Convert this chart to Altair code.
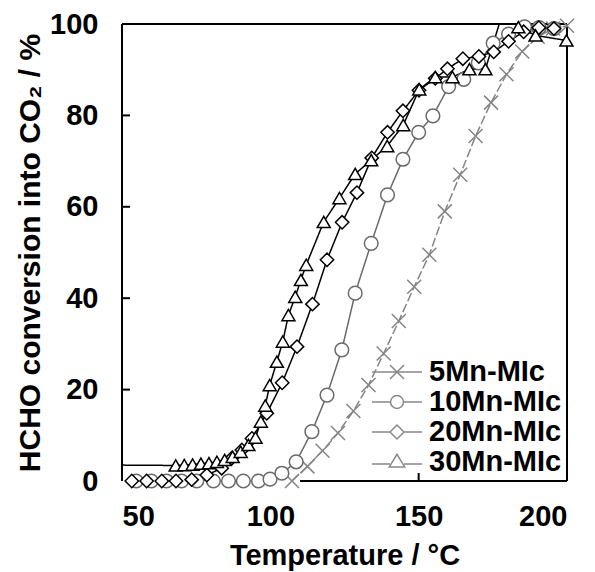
import altair as alt
import pandas as pd

series = ["5Mn-MIc", "10Mn-MIc", "20Mn-MIc", "30Mn-MIc"]
colors = ["#858585", "#6a6a6a", "#000000", "#000000"]

x5 = [107.3, 112.5, 117.6, 122.8, 128.0, 133.1, 138.2, 143.3, 148.5, 153.6, 158.8,
      164.0, 169.2, 174.4, 179.6, 184.9, 190.1, 195.3, 200.0]
y5 = [0.0, 3.2, 6.6, 10.5, 15.3, 21.0, 27.9, 35.0, 42.5, 49.5, 59.0,
      67.0, 75.5, 82.8, 89.0, 94.0, 97.2, 99.0, 99.6]

x10 = [54.8, 59.9, 65.0, 70.1, 75.2, 80.8, 85.9, 90.9, 96.0, 99.9, 103.9, 108.7,
       114.0, 119.1, 124.1, 128.6, 134.0, 139.5, 144.7, 150.0, 154.8, 160.1, 165.2,
       170.1, 175.1, 180.3, 185.7, 190.6, 195.6]
y10 = [0, 0, 0, 0, 0, 0, 0, 0, 0, 0.4, 1.7, 4.2,
       10.8, 18.8, 28.7, 41.1, 52.0, 62.6, 70.4, 76.3, 79.9, 86.3, 87.9,
       91.5, 95.8, 97.8, 99.4, 99.2, 99.0]

x20 = [53.3, 58.3, 63.4, 68.2, 73.5, 78.6, 83.6, 87.0, 90.4, 93.8, 98.8, 104.0, 109.0,
       114.2, 119.1, 124.2, 129.2, 134.2, 139.5, 144.7, 150.1, 155.6, 159.7, 164.9,
       170.3, 175.3, 180.3, 185.4, 190.5, 195.6]
y20 = [0, 0, 0, 0, 0.3, 1.3, 2.8, 5.0, 6.8, 9.3, 14.8, 21.5, 29.4,
       38.7, 48.4, 56.6, 63.1, 70.7, 76.3, 81.0, 85.5, 88.1, 90.2, 92.4,
       92.9, 93.9, 96.2, 98.3, 99.2, 99.0]

x30 = [45.0, 68.1, 71.0, 73.8, 76.6, 79.3, 82.0, 84.6, 87.3, 90.0, 92.6, 95.0, 96.8,
       98.3, 99.8, 102.2, 104.2, 106.1, 108.4, 110.3, 112.1, 118.0, 123.3, 128.6,
       134.0, 139.4, 144.8, 150.2, 155.6, 161.4, 167.1, 172.5, 179.5, 183.6, 189.4, 199.8]
y30 = [3.5, 3.4, 3.5, 3.6, 3.8, 3.9, 4.2, 4.6, 5.3, 6.4, 7.9, 9.5, 13.0,
       16.5, 21.0, 26.1, 30.5, 36.3, 40.3, 44.0, 47.3, 56.7, 61.9, 67.2,
       70.2, 73.3, 77.9, 85.7, 88.4, 88.4, 90.1, 90.1, 105.0, 99.3, 97.5, 96.4]
m30 = [False] + [True] * 31 + [False] + [True] * 3

x_ticks = [50, 100, 150, 200]
y_ticks = [0, 20, 40, 60, 80, 100]
inner_y_ticks = [20, 40, 60, 80]
inner_x_ticks = [150]

rows = []
for name, xs, ys, ms in [
    (series[0], x5, y5, [True] * len(x5)),
    (series[1], x10, y10, [True] * len(x10)),
    (series[2], x20, y20, [True] * len(x20)),
    (series[3], x30, y30, m30),
]:
    for a, b, m in zip(xs, ys, ms):
        rows.append({"series": name, "x": a, "y": b, "marker": m})
df = pd.DataFrame(rows)

frame = pd.DataFrame({
    "x": [50, 50, 200, 110],
    "x2": [200, 50, 200, 200],
    "y": [100, 0, 0, 0],
    "y2": [100, 100, 100, 0],
})
ytick_df = pd.DataFrame({"y": inner_y_ticks})
xtick_df = pd.DataFrame({"x": inner_x_ticks})

FONT = "Liberation Sans"
FS = 29

X = alt.X("x:Q", scale=alt.Scale(domain=[50, 200], nice=False, zero=False),
          axis=alt.Axis(values=x_ticks, title="Temperature / °C", format="d",
                        titleY=83, titleBaseline="alphabetic"))
Y = alt.Y("y:Q", scale=alt.Scale(domain=[0, 100], nice=False, zero=False),
          axis=alt.Axis(values=y_ticks, title="HCHO conversion into CO₂ / %", format="d",
                        titleX=-92, titleBaseline="middle", titleFontSize=30))

frame_layer = alt.Chart(frame).mark_rule(color="black", strokeWidth=2).encode(
    x=X, x2="x2:Q", y=Y, y2="y2:Q")

ytick_layer = alt.Chart(ytick_df).mark_rule(color="black", strokeWidth=2).encode(
    y=Y, x=alt.value(0), x2=alt.value(8))
xtick_layer = alt.Chart(xtick_df).mark_rule(color="black", strokeWidth=2).encode(
    x=X, y=alt.value(449), y2=alt.value(457))

color_scale = alt.Scale(domain=series, range=colors)

lines = alt.Chart(df).mark_line(clip=True, strokeWidth=1.5).encode(
    x=X, y=Y,
    color=alt.Color("series:N", scale=color_scale, legend=None),
    strokeDash=alt.StrokeDash("series:N", scale=alt.Scale(domain=series,
                              range=[[9, 3], [1, 0], [1, 0], [1, 0]]), legend=None),
    order="x:Q",
)

xpath = "M-1,-1L1,1M-1,1L1,-1"
points = alt.Chart(df).transform_filter("datum.marker").mark_point(
    filled=False, fill="white", fillOpacity=1, opacity=1, strokeWidth=1.5
).encode(
    x=X, y=Y,
    color=alt.Color("series:N", scale=color_scale, legend=None),
    shape=alt.Shape("series:N", scale=alt.Scale(domain=series,
                    range=[xpath, "circle", "diamond", "triangle-up"]), legend=None),
    size=alt.Size("series:N", scale=alt.Scale(domain=series, range=[196, 169, 225, 256]),
                  legend=None),
)

L = 1.786
leg_paths = [
    f"M-{L},0H{L}M-0.5,-0.5L0.5,0.5M-0.5,0.5L0.5,-0.5",
    f"M-{L},0H-0.46M0.46,0H{L}M-0.46,0A0.46,0.46 0 1,1 0.46,0A0.46,0.46 0 1,1 -0.46,0",
    f"M-{L},0H-0.5M0.5,0H{L}M-0.5,0L0,-0.5L0.5,0L0,0.5Z",
    f"M-{L},0.15H-0.5M0.5,0.15H{L}M0,-0.55L0.55,0.35L-0.55,0.35Z",
]
legend = alt.Legend(orient="none", legendX=260, legendY=333, title=None,
                    symbolSize=784, symbolStrokeWidth=1.5, symbolOpacity=1,
                    labelFont=FONT, labelFontSize=FS, labelFontWeight="bold",
                    labelColor="black", labelOffset=17, rowPadding=0, padding=0,
                    labelLimit=300)
legend_layer = alt.Chart(df).mark_point(opacity=0).encode(
    x=X, y=Y,
    stroke=alt.Stroke("series:N", scale=color_scale, legend=legend),
    shape=alt.Shape("series:N", scale=alt.Scale(domain=series, range=leg_paths), legend=legend),
)

chart = alt.layer(
    frame_layer, ytick_layer, xtick_layer, lines, points, legend_layer
).resolve_scale(shape="independent").properties(
    width=445, height=457,
    autosize=alt.AutoSizeParams(type="none"),
    padding={"left": 114, "top": 16, "right": 20, "bottom": 91},
    background="white",
).configure_view(stroke=None).configure_axis(
    domain=False, ticks=False, grid=False,
    labelFont=FONT, labelFontSize=FS, labelFontWeight="bold", labelColor="black",
    titleFont=FONT, titleFontSize=FS, titleFontWeight="bold", titleColor="black",
).configure_axisY(labelPadding=24).configure_axisX(labelPadding=21)

chart.save("out.html", embed_options={"renderer": "svg", "actions": False})
